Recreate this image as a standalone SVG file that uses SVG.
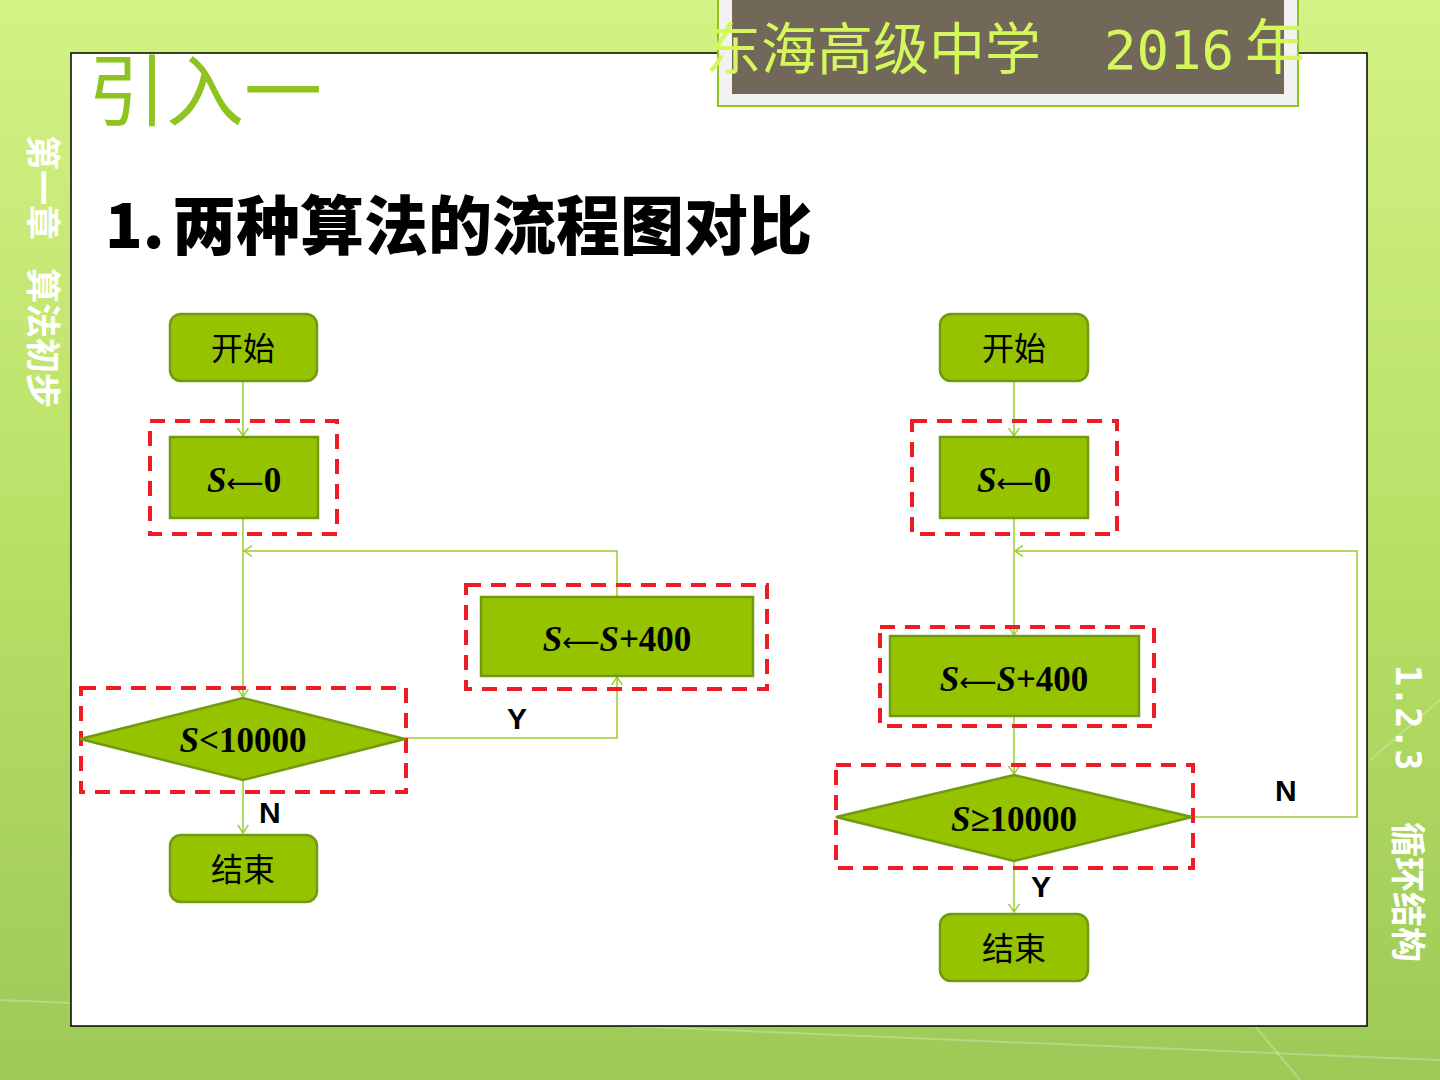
<svg xmlns="http://www.w3.org/2000/svg" width="1440" height="1080" viewBox="0 0 1440 1080">
<defs>
<linearGradient id="bg" x1="0" y1="0" x2="0" y2="1">
<stop offset="0" stop-color="#d3f285"/>
<stop offset="0.5" stop-color="#b8e066"/>
<stop offset="1" stop-color="#9dc957"/>
</linearGradient>
<marker id="arr" markerUnits="userSpaceOnUse" markerWidth="16" markerHeight="16" viewBox="-8 -8 16 16" refX="0" refY="0" orient="auto">
<path d="M-9,-6 L0,0 L-9,6" fill="none" stroke="#9acd32" stroke-width="1.5"/>
</marker>
<style>
.node{fill:#95c300;stroke:#6f9a12;stroke-width:2.5}
.dash{fill:none;stroke:#ee1c25;stroke-width:4;stroke-dasharray:15 10}
.conn{fill:none;stroke:#9acd32;stroke-width:1.5}
.lbl{font-family:"Liberation Serif","Noto Sans CJK SC",serif;font-size:32px;text-anchor:middle;fill:#000}
.math{font-family:"Liberation Serif",serif;font-size:35px;font-weight:bold;text-anchor:middle;fill:#000}
.ar{font-family:"DejaVu Sans",sans-serif;font-weight:normal;font-size:26px}
.yn{font-family:"Liberation Sans",sans-serif;font-size:30px;font-weight:bold;fill:#000}
.side{font-family:"Noto Sans CJK SC",sans-serif;font-size:35px;font-weight:bold;fill:#ffffff}
.mono{font-family:"DejaVu Sans Mono",monospace;font-size:35px;font-weight:bold;fill:#ffffff}
</style>
</defs>
<rect x="0" y="0" width="1440" height="1080" fill="url(#bg)"/>
<g stroke="#ffffff" stroke-opacity="0.25" stroke-width="2" fill="none">
<path d="M0,1000 L1440,1060"/>
<path d="M1200,960 L1300,1080"/>
<path d="M1370,760 L1440,700"/>
</g>
<rect x="71" y="53" width="1296" height="973" fill="#ffffff" stroke="#000" stroke-width="1.5"/>

<g id="header">
<rect x="718" y="-4" width="580" height="110" fill="#f2f2f2" stroke="#8fc31f" stroke-width="2"/>
<rect x="732" y="-4" width="552" height="98" fill="#726859"/>
<text x="705" y="69" font-family="Noto Sans CJK SC,sans-serif" font-size="56" fill="#d4f75c">东海高级中学</text>
<text x="1104" y="69" font-family="DejaVu Sans Mono,monospace" font-size="54" fill="#d4f75c">2016</text>
<text x="1245" y="69" font-family="Noto Sans CJK SC,sans-serif" font-size="60" fill="#d4f75c">年</text>
</g>

<text x="88" y="120" font-family="Noto Sans CJK SC,sans-serif" font-size="78" fill="#8fc31f">引入一</text>
<text x="105" y="248" font-family="Noto Sans CJK SC,sans-serif" font-size="62" font-weight="900" fill="#000">1.</text>
<text x="172" y="249" font-family="Noto Sans CJK SC,sans-serif" font-size="64" font-weight="900" fill="#000">两种算法的流程图对比</text>

<text class="side" transform="translate(30,135) rotate(90)">第一章</text>
<text class="side" transform="translate(30,268) rotate(90)">算法初步</text>
<text class="mono" transform="translate(1396,665) rotate(90)">1.2.3</text>
<text class="side" transform="translate(1395,822) rotate(90)">循环结构</text>

<g id="connectors">
<path class="conn" d="M243,381 V436" marker-end="url(#arr)"/>
<path class="conn" d="M243,518 V697" marker-end="url(#arr)"/>
<path class="conn" d="M617,597 V551 H244" marker-end="url(#arr)"/>
<path class="conn" d="M405,738 H617 V677" marker-end="url(#arr)"/>
<path class="conn" d="M243,780 V833" marker-end="url(#arr)"/>
<path class="conn" d="M1014,381 V436" marker-end="url(#arr)"/>
<path class="conn" d="M1014,518 V635" marker-end="url(#arr)"/>
<path class="conn" d="M1014,716 V774" marker-end="url(#arr)"/>
<path class="conn" d="M1192,817 H1357 V551 H1015" marker-end="url(#arr)"/>
<path class="conn" d="M1014,861 V912" marker-end="url(#arr)"/>
</g>

<g id="dashes">
<rect class="dash" x="150" y="421" width="187" height="113"/>
<rect class="dash" x="466" y="585" width="301" height="104"/>
<rect class="dash" x="81" y="688" width="325" height="104"/>
<rect class="dash" x="912" y="421" width="205" height="113"/>
<rect class="dash" x="880" y="627" width="274" height="99"/>
<rect class="dash" x="836" y="765" width="357" height="103"/>
</g>

<g id="L-start"><rect class="node" x="170" y="314" width="147" height="67" rx="11"/><text class="lbl" x="243" y="360">开始</text></g>
<g id="L-init"><rect class="node" x="170" y="437" width="148" height="81"/><text class="math" x="244" y="492"><tspan font-style="italic">S</tspan><tspan class="ar">⟵</tspan>0</text></g>
<g id="L-add"><rect class="node" x="481" y="597" width="272" height="79"/><text class="math" x="617" y="651"><tspan font-style="italic">S</tspan><tspan class="ar">⟵</tspan><tspan font-style="italic">S</tspan>+400</text></g>
<g id="L-cond"><path class="node" d="M80,739 L243,698 L405,739 L243,780 Z" stroke-width="1.5"/><text class="math" x="243" y="752"><tspan font-style="italic">S</tspan>&lt;10000</text></g>
<g id="L-end"><rect class="node" x="170" y="835" width="147" height="67" rx="11"/><text class="lbl" x="243" y="881">结束</text></g>
<text class="yn" x="507" y="729">Y</text>
<text class="yn" x="259" y="823">N</text>

<g id="R-start"><rect class="node" x="940" y="314" width="148" height="67" rx="11"/><text class="lbl" x="1014" y="360">开始</text></g>
<g id="R-init"><rect class="node" x="940" y="437" width="148" height="81"/><text class="math" x="1014" y="492"><tspan font-style="italic">S</tspan><tspan class="ar">⟵</tspan>0</text></g>
<g id="R-add"><rect class="node" x="890" y="636" width="249" height="80"/><text class="math" x="1014" y="691"><tspan font-style="italic">S</tspan><tspan class="ar">⟵</tspan><tspan font-style="italic">S</tspan>+400</text></g>
<g id="R-cond"><path class="node" d="M836,817 L1014,775 L1192,817 L1014,861 Z" stroke-width="1.5"/><text class="math" x="1014" y="831"><tspan font-style="italic">S</tspan>≥10000</text></g>
<g id="R-end"><rect class="node" x="940" y="914" width="148" height="67" rx="11"/><text class="lbl" x="1014" y="960">结束</text></g>
<text class="yn" x="1275" y="801">N</text>
<text class="yn" x="1031" y="897">Y</text>
</svg>
